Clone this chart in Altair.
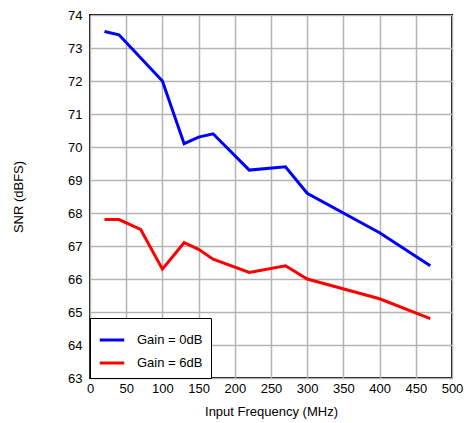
import altair as alt
import pandas as pd

freq_0db = [20, 40, 100, 130, 150, 170, 220, 270, 300, 400, 470]
snr_0db = [73.5, 73.4, 72.0, 70.1, 70.3, 70.4, 69.3, 69.4, 68.6, 67.4, 66.4]
freq_6db = [20, 40, 70, 100, 130, 150, 170, 220, 270, 300, 400, 470]
snr_6db = [67.8, 67.8, 67.5, 66.3, 67.1, 66.9, 66.6, 66.2, 66.4, 66.0, 65.4, 64.8]
series = ["Gain = 0dB", "Gain = 6dB"]

rows = [{"f": f, "s": s, "series": series[0], "o": i} for i, (f, s) in enumerate(zip(freq_0db, snr_0db))]
rows += [{"f": f, "s": s, "series": series[1], "o": i} for i, (f, s) in enumerate(zip(freq_6db, snr_6db))]
df = pd.DataFrame(rows)

font = "Liberation Sans"

chart = alt.Chart(df).mark_line(strokeWidth=3).encode(
    x=alt.X("f:Q", title="Input Frequency (MHz)",
            scale=alt.Scale(domain=[0, 500], nice=False),
            axis=alt.Axis(values=list(range(0, 501, 50)), ticks=False, labelPadding=4,
                          labelFlush=False, titlePadding=10)),
    y=alt.Y("s:Q", title="SNR (dBFS)",
            scale=alt.Scale(domain=[63, 74], nice=False, zero=False),
            axis=alt.Axis(values=list(range(63, 75)), ticks=False, labelPadding=8,
                          labelFlush=False, titlePadding=42)),
    color=alt.Color("series:N", scale=alt.Scale(domain=series, range=["#0000ff", "#ff0000"]),
                    legend=alt.Legend(title=None, orient="bottom-left", offset=0,
                                      fillColor="white", strokeColor="black",
                                      padding=8, symbolType="stroke", symbolSize=600,
                                      symbolStrokeWidth=3, labelFontSize=13, labelFont=font,
                                      rowPadding=2, labelOffset=11)),
    order="o:Q",
).properties(
    width=362, height=363,
    autosize=alt.AutoSizeParams(type="none"),
    padding={"left": 82, "top": 7, "right": 12, "bottom": 45},
).configure_view(
    stroke="black", strokeWidth=2
).configure_axis(
    grid=True, gridColor="#b4b4b4", gridWidth=1.5,
    domain=False,
    labelFont=font, labelFontSize=13, labelColor="black",
    titleFont=font, titleFontSize=13, titleFontWeight="normal", titleColor="black",
)

chart.save("out.html", embed_options={"renderer": "svg", "actions": False})
